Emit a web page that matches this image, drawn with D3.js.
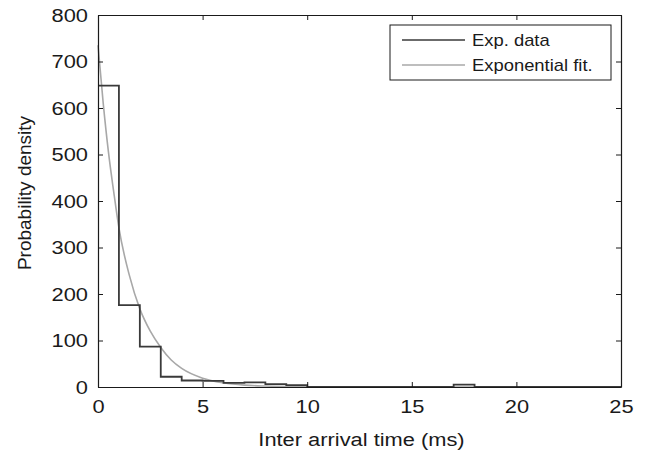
<!DOCTYPE html>
<html>
<head>
<meta charset="utf-8">
<script src="https://cdn.jsdelivr.net/npm/d3@7"></script>
<style>
    body { margin: 0; background: #fff; }
    svg { display: block; }
    text { font-family: "Liberation Sans", Arial, Helvetica, sans-serif; fill: #1a1a1a; }
    /* the reference text is a little wider than Arial */
    .wide { transform-box: fill-box; transform-origin: center; transform: scaleX(1.15); }
    .wide-right { transform-box: fill-box; transform-origin: right center; transform: scaleX(1.15); }
    .wide-left { transform-box: fill-box; transform-origin: left center; transform: scaleX(1.15); }
</style>
</head>
<body>
<svg id="chart" width="651" height="454"></svg>
<script>
// Histogram of inter arrival times, 1 ms bins starting at 0
const binEdges = [0, 1, 2, 3, 4, 5, 6, 7, 8, 9, 10, 11, 12, 13, 14, 15, 16, 17, 18, 19, 20, 21, 22, 23, 24];
const binDensity = [648, 176, 87, 22, 14, 13, 9, 10, 6, 4, 0, 0, 0, 0, 0, 0, 0, 5, 0, 0, 0, 0, 0, 0, 0];

// Exponential fit at these times
const fitTime = [0, 0.25, 0.5, 0.75, 1, 1.5, 2, 2.5, 3, 3.5, 4, 5, 6, 7, 8, 10, 12, 15, 20, 25];
const fitDensity = [735, 610, 505, 420, 342, 240, 168, 120, 85, 58, 40, 19, 9, 4, 2, 0.5, 0, 0, 0, 0];

const xTicks = [0, 5, 10, 15, 20, 25];
const yTicks = [0, 100, 200, 300, 400, 500, 600, 700, 800];

const legendLabels = ['Exp. data', 'Exponential fit.'];
const colors = { data: '#3a3a3a', fit: '#a8a8a8' };

const svg = d3.select('#chart');
const margin = { left: 98, right: 30, top: 15, bottom: 67 };
const width = 651 - margin.left - margin.right;
const height = 454 - margin.top - margin.bottom;

const x = d3.scaleLinear().domain([0, 25]).range([margin.left, margin.left + width]);
const y = d3.scaleLinear().domain([0, 800]).range([margin.top + height, margin.top]);

// Data lines
const histPoints = binEdges.map((e, i) => [e, binDensity[i]]);
histPoints.push([25, binDensity[binDensity.length - 1]]);

const stepLine = d3.line()
    .x(d => x(d[0]))
    .y(d => y(d[1]))
    .curve(d3.curveStepAfter);

const fitLine = d3.line()
    .x((d, i) => x(fitTime[i]))
    .y(d => y(d))
    .curve(d3.curveMonotoneX);

svg.append('path')
    .attr('d', fitLine(fitDensity))
    .attr('fill', 'none')
    .attr('stroke', colors.fit)
    .attr('stroke-width', 1.6);

svg.append('path')
    .attr('d', stepLine(histPoints))
    .attr('fill', 'none')
    .attr('stroke', colors.data)
    .attr('stroke-width', 1.8);

// Axes, MATLAB style box with inward ticks
const tickLen = 5;

const xAxis = svg.append('g')
    .attr('transform', `translate(0, ${margin.top + height})`)
    .call(d3.axisBottom(x).tickValues(xTicks).tickSizeInner(-tickLen).tickSizeOuter(0).tickPadding(13));

const yAxis = svg.append('g')
    .attr('transform', `translate(${margin.left}, 0)`)
    .call(d3.axisLeft(y).tickValues(yTicks).tickSizeInner(-tickLen).tickSizeOuter(0).tickPadding(10));

svg.append('g')
    .attr('transform', `translate(0, ${margin.top})`)
    .call(d3.axisTop(x).tickValues(xTicks).tickSizeInner(-tickLen).tickSizeOuter(0).tickFormat(''));

svg.append('g')
    .attr('transform', `translate(${margin.left + width}, 0)`)
    .call(d3.axisRight(y).tickValues(yTicks).tickSizeInner(-tickLen).tickSizeOuter(0).tickFormat(''));

svg.selectAll('.domain').attr('stroke', '#1a1a1a').attr('stroke-width', 1.2);
svg.selectAll('.tick line').attr('stroke', '#1a1a1a');

xAxis.selectAll('text')
    .attr('class', 'wide')
    .style('font-size', '19px')
    .attr('fill', '#1a1a1a');

yAxis.selectAll('text')
    .attr('class', 'wide-right')
    .style('font-size', '19px')
    .attr('fill', '#1a1a1a');

// Axis labels
svg.append('text')
    .attr('class', 'wide')
    .attr('x', margin.left + width / 2 + 2)
    .attr('y', 446)
    .attr('text-anchor', 'middle')
    .style('font-size', '19px')
    .text('Inter arrival time (ms)');

svg.append('text')
    .attr('transform', 'translate(31, 193) rotate(-90)')
    .attr('text-anchor', 'middle')
    .style('font-size', '19px')
    .text('Probability density');

// Legend
const legend = svg.append('g').attr('transform', 'translate(390, 25)');

legend.append('rect')
    .attr('width', 221)
    .attr('height', 55)
    .attr('fill', '#fff')
    .attr('stroke', '#1a1a1a')
    .attr('stroke-width', 1);

const legendItems = legend.selectAll('.legend-item')
    .data(legendLabels)
    .enter()
    .append('g')
    .attr('transform', (d, i) => `translate(0, ${15 + i * 25})`);

legendItems.append('line')
    .attr('x1', 12)
    .attr('x2', 75)
    .attr('stroke', (d, i) => i === 0 ? colors.data : colors.fit)
    .attr('stroke-width', 1.6);

legendItems.append('text')
    .attr('class', 'wide-left')
    .attr('x', 82)
    .attr('y', 6)
    .style('font-size', '16px')
    .text(d => d);
</script>
</body>
</html>
